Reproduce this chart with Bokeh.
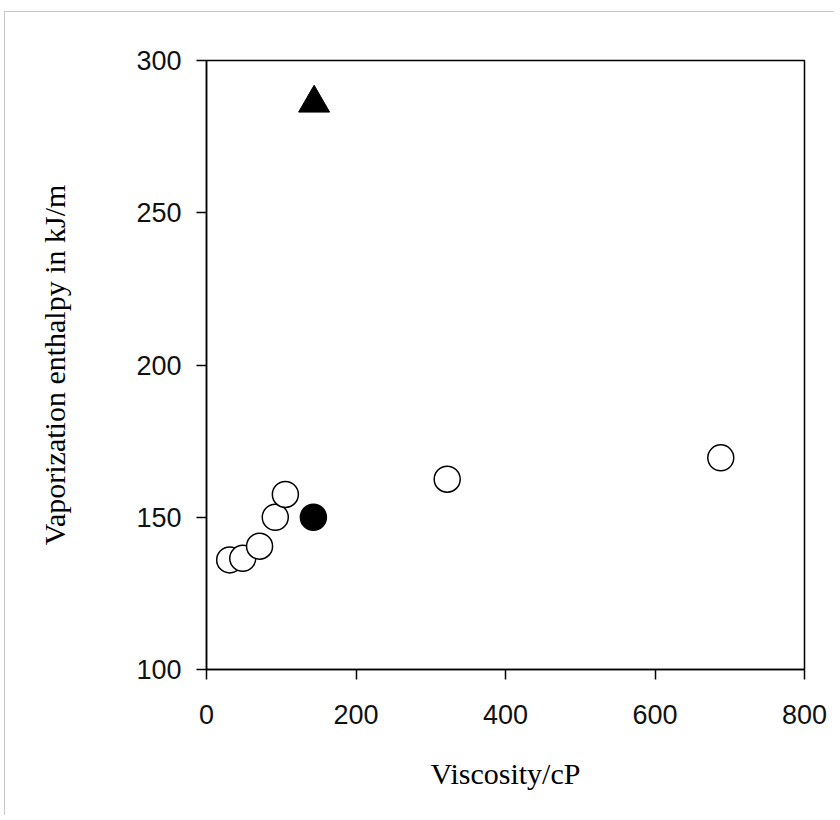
import math
from bokeh.plotting import figure
from bokeh.models import Range1d, FixedTicker
from bokeh.embed import file_html
from bokeh.resources import INLINE

# data
open_x = [31, 48.5, 71, 92, 105.5, 322, 688]
open_y = [136, 136.5, 140.5, 150, 157.5, 162.5, 169.5]
filled_x = [143]
filled_y = [150]
tri_x = [144]
tri_y = [286]
x_ticks = [0, 200, 400, 600, 800]
y_ticks = [100, 150, 200, 250, 300]
x_title = "Viscosity/cP"
y_title = "Vaporization enthalpy in kJ/m"

p = figure(frame_width=598, frame_height=609, output_backend="svg", toolbar_location=None,
           x_range=Range1d(0, 800), y_range=Range1d(100, 300),
           min_border_left=201, min_border_top=48, min_border_right=30, min_border_bottom=146)
p.styles = {"margin-left": "4px", "margin-top": "11px",
            "border-left": "1px solid #c8c8c8", "border-top": "1px solid #c8c8c8"}
p.xgrid.visible = False
p.ygrid.visible = False
p.outline_line_color = "black"
p.outline_line_width = 1.5
p.outline_line_alpha = 1

for ax in (p.xaxis[0], p.yaxis[0]):
    ax.axis_line_color = "black"
    ax.axis_line_width = 1.5
    ax.major_tick_line_color = "black"
    ax.major_tick_line_width = 1.5
    ax.major_tick_in = 0
    ax.major_tick_out = 10
    ax.minor_tick_line_color = None
    ax.major_label_text_font = "Liberation Sans"
    ax.major_label_text_font_size = "27px"
    ax.major_label_text_color = "#111111"
    ax.axis_label_text_font = "Liberation Serif"
    ax.axis_label_text_font_style = "normal"
    ax.axis_label_text_font_size = "30px"
    ax.axis_label_text_color = "black"

p.xaxis.ticker = FixedTicker(ticks=x_ticks)
p.yaxis.ticker = FixedTicker(ticks=y_ticks)
p.xaxis.major_label_standoff = 25
p.yaxis.major_label_standoff = 15
p.xaxis.axis_label = x_title
p.xaxis.axis_label_standoff = 30
p.yaxis.axis_label = y_title
p.yaxis.axis_label_standoff = 62

p.scatter(open_x, open_y, marker="circle", size=26, fill_color="white",
          line_color="black", line_width=1.5)
p.scatter(filled_x, filled_y, marker="circle", size=26, fill_color="black",
          line_color="black", line_width=1.5)
p.scatter(tri_x, tri_y, marker="triangle", size=31, fill_color="black",
          line_color="black", line_width=1)

open("out.html", "w").write(file_html(p, INLINE))
